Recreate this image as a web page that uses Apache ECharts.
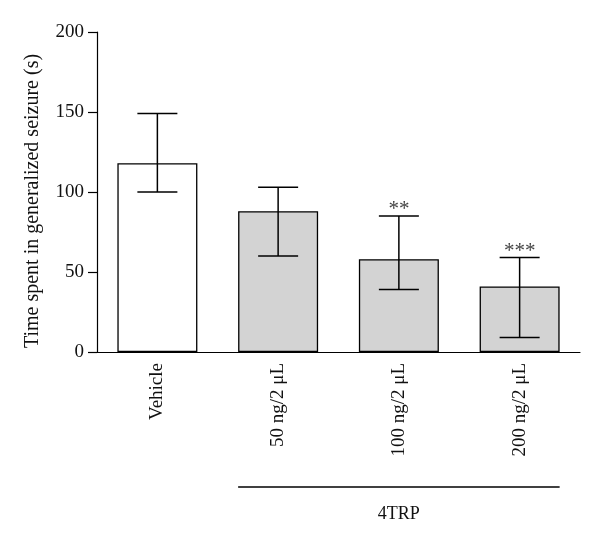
<!DOCTYPE html>
<html>
<head>
<meta charset="utf-8">
<script src="https://cdn.jsdelivr.net/npm/echarts@6/dist/echarts.min.js"></script>
<style>html,body{margin:0;padding:0;background:#fff;}#c{width:600px;height:547px;}</style>
</head>
<body>
<div id="c"></div>
<script>
var categories = ['Vehicle', '50 ng/2 \u03bcL', '100 ng/2 \u03bcL', '200 ng/2 \u03bcL'];
var means = [118, 88, 58, 41];
var errLow = [100, 60, 39, 9];
var errHigh = [149, 103, 85, 59];
var stars = ['', '', '**', '***'];
var barColors = ['#ffffff', '#d3d3d3', '#d3d3d3', '#d3d3d3'];
var yTicks = [0, 50, 100, 150, 200];
var groupName = '4TRP';
var groupFrom = 1, groupTo = 3;

var FONT = '"Liberation Serif", "DejaVu Serif", serif';
var chart = echarts.init(document.getElementById('c'));

var errData = categories.map(function (c, i) { return [i, errLow[i], errHigh[i], stars[i]]; });

chart.setOption({
  animation: false,
  grid: { left: 97, right: 20, top: 32, bottom: 195 },
  xAxis: {
    type: 'category',
    data: categories,
    boundaryGap: true,
    axisLine: { lineStyle: { color: '#000', width: 1.2 } },
    axisTick: { show: false },
    axisLabel: { rotate: 90, margin: 11, color: '#111', fontFamily: FONT, fontSize: 19 }
  },
  yAxis: {
    type: 'value',
    min: yTicks[0],
    max: yTicks[yTicks.length - 1],
    interval: 50,
    name: 'Time spent in generalized seizure (s)',
    nameLocation: 'middle',
    nameGap: 54,
    nameTextStyle: { color: '#111', fontFamily: FONT, fontSize: 20, padding: [0, 18, 0, 0] },
    axisLine: { show: true, lineStyle: { color: '#000', width: 1.2 } },
    axisTick: { show: true, inside: false, length: 9, lineStyle: { color: '#000', width: 1.2 } },
    axisLabel: { margin: 13, color: '#111', fontFamily: FONT, fontSize: 19 },
    splitLine: { show: false }
  },
  series: [
    {
      type: 'bar',
      barWidth: 80,
      data: means.map(function (v, i) {
        return { value: v, itemStyle: { color: barColors[i], borderColor: '#000', borderWidth: 1.3 } };
      }),
      z: 2
    },
    {
      type: 'custom',
      data: errData,
      z: 3,
      renderItem: function (params, api) {
        var x = api.value(0);
        var lo = api.coord([x, api.value(1)]);
        var hi = api.coord([x, api.value(2)]);
        var half = 20;
        var style = { stroke: '#000', lineWidth: 1.5 };
        var children = [
          { type: 'line', shape: { x1: lo[0], y1: lo[1], x2: hi[0], y2: hi[1] }, style: style },
          { type: 'line', shape: { x1: hi[0] - half, y1: hi[1], x2: hi[0] + half, y2: hi[1] }, style: style },
          { type: 'line', shape: { x1: lo[0] - half, y1: lo[1], x2: lo[0] + half, y2: lo[1] }, style: style }
        ];
        var s = errData[params.dataIndex][3];
        if (s) {
          children.push({
            type: 'text',
            style: { text: s, x: hi[0], y: hi[1] + 4, align: 'center', verticalAlign: 'bottom',
                     fill: '#444', font: '21px ' + FONT }
          });
        }
        return { type: 'group', children: children };
      }
    }
  ]
});

function drawGroup() {
  var barHalf = 40;
  var x1 = chart.convertToPixel({ gridIndex: 0 }, [groupFrom, 0])[0] - barHalf;
  var x2 = chart.convertToPixel({ gridIndex: 0 }, [groupTo, 0])[0] + barHalf;
  var y0 = chart.convertToPixel({ gridIndex: 0 }, [0, 0])[1];
  var ly = y0 + 135;
  chart.setOption({
    graphic: [
      { type: 'line', shape: { x1: x1, y1: ly, x2: x2, y2: ly }, style: { stroke: '#000', lineWidth: 1.3 } },
      { type: 'text', style: { text: groupName, x: (x1 + x2) / 2, y: ly + 27, align: 'center', verticalAlign: 'middle',
          fill: '#111', font: '18px ' + FONT } }
    ]
  });
}
drawGroup();
</script>
</body>
</html>
